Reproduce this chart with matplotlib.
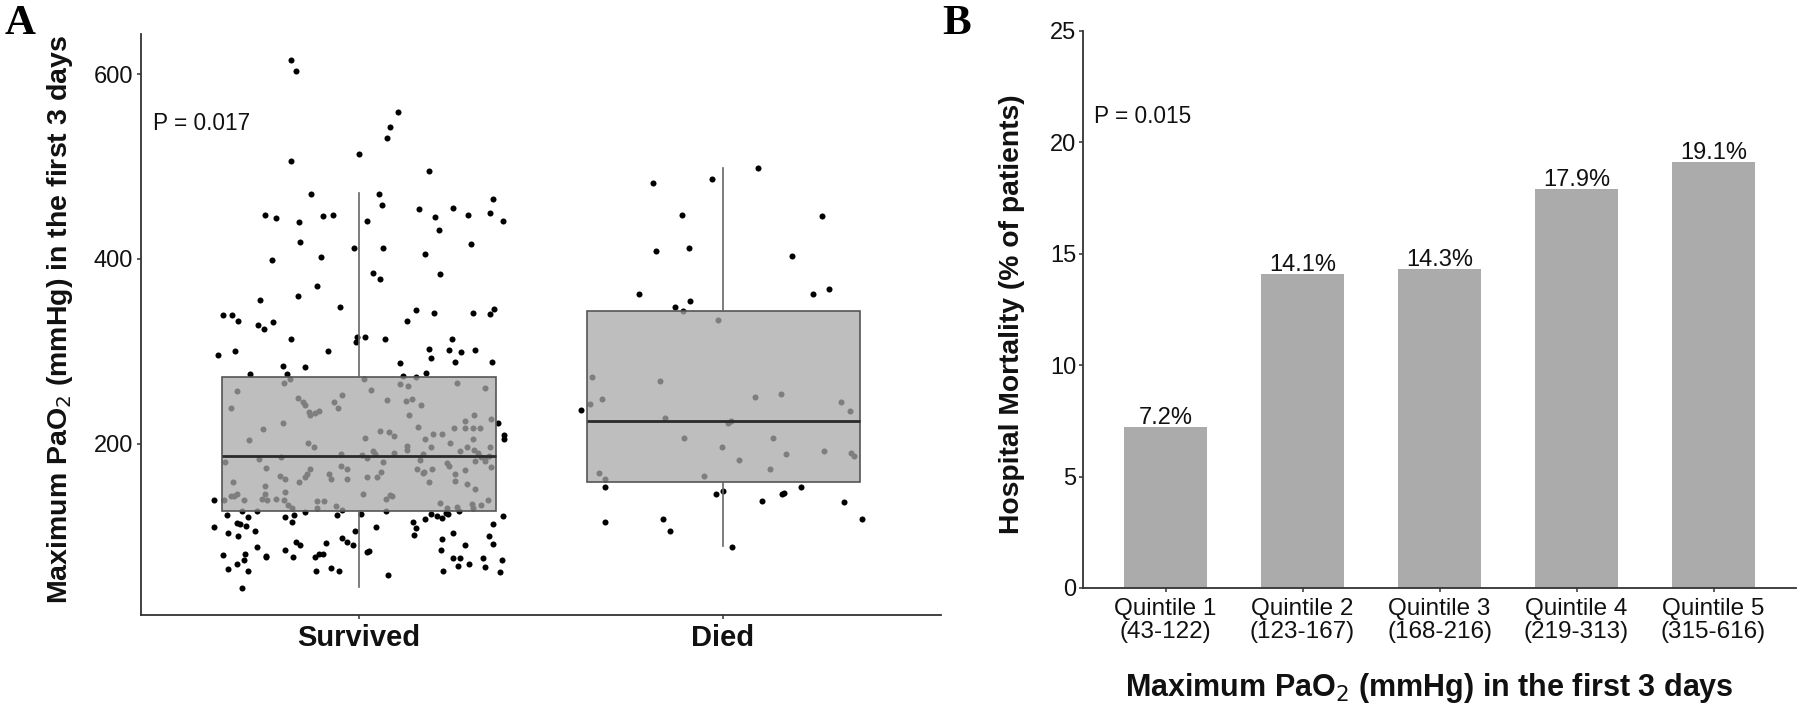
import matplotlib
matplotlib.use("Agg")
import matplotlib.pyplot as plt

plt.rcParams["font.family"] = ["Liberation Sans", "DejaVu Sans"]

# ---- panel A data ----
groups = ["Survived", "Died"]
box_q1 = [127, 159]
box_median = [187, 225]
box_q3 = [272, 344]
box_whislo = [45, 89]
box_whishi = [471, 498]

survived_pao2 = [
    615, 603, 559, 543, 531, 513, 506, 495, 470, 470,
    458, 465, 448, 444, 440, 446, 448, 441, 454, 445,
    455, 447, 450, 441, 431, 418, 412, 412, 416, 399,
    402, 405, 385, 378, 384, 371, 360, 355, 348, 345,
    339, 339, 333, 328, 332, 333, 342, 342, 340, 346,
    324,
    313, 315, 315, 310, 313, 296, 300, 300, 302, 313,
    301, 299, 301, 293, 288, 289, 284, 283, 287, 276,
    276, 273, 277,
    266, 270, 257, 239, 249, 245, 242, 234, 231, 233,
    235, 245, 239, 253, 270, 258, 247, 265, 263, 272,
    246, 248, 242, 231, 218, 266, 260, 227, 231, 225,
    217, 217, 217, 217, 216, 222, 204, 201, 196, 206,
    214, 213, 208, 205, 211, 211, 197, 198, 193, 201,
    192, 196, 205, 193, 197, 185, 190, 186, 187, 192,
    189, 188, 185, 189, 190, 189, 180, 184, 186, 174,
    173, 176, 173, 180, 182, 173, 173, 179, 176, 181,
    181, 175, 172, 167, 168, 170, 170, 164, 164, 167,
    164, 159, 162, 165, 167, 162, 162, 159, 154, 146,
    148, 143, 144, 146, 139, 139, 140, 139, 140, 139,
    134, 131, 138, 138, 130, 133, 128, 146, 140, 145,
    144, 159, 160, 157, 151, 136, 130, 132, 135, 134,
    139, 130,
    139, 123, 127, 127, 121, 110, 114, 113, 111, 104,
    100, 106, 121, 123, 115, 126, 123, 124, 127, 110,
    106, 115, 109, 101, 119, 124, 122, 120, 125, 124,
    127, 104, 97, 113, 122, 100, 92, 223, 210, 205,
    88, 80, 81, 74, 79, 77, 65, 70, 62, 44,
    85, 78, 94, 90, 78, 81, 81, 93, 98, 94,
    90, 62, 66, 62, 83, 84, 58, 85, 76, 76,
    68, 91, 70, 62, 76, 67, 74, 61,
]
survived_jitter = [
    -0.188, -0.174, 0.106, 0.086, 0.077, -0.001, -0.188, 0.193, -0.131, 0.054,
    0.063, 0.369, -0.257, -0.229, -0.165, -0.099, -0.072, 0.022, 0.164, 0.210,
    0.259, 0.300, 0.360, 0.395, 0.219, -0.162, -0.015, 0.066, 0.308, -0.240,
    -0.104, 0.181, 0.038, 0.057, 0.222, -0.115, -0.168, -0.271, -0.052, 0.156,
    -0.373, -0.350, -0.332, -0.278, -0.237, 0.132, 0.207, 0.314, 0.360, 0.372,
    -0.261,
    -0.188, -0.005, 0.017, -0.007, 0.071, -0.387, -0.341, -0.084, 0.193, 0.256,
    0.248, 0.279, 0.320, 0.199, 0.265, 0.366, -0.208, -0.148, 0.112, -0.199,
    -0.300, 0.122, 0.184,
    -0.205, -0.190, -0.335, -0.353, -0.168, -0.154, -0.147, -0.138, -0.135, -0.122,
    -0.110, -0.070, -0.058, -0.047, 0.015, 0.034, 0.077, 0.114, 0.135, 0.156,
    0.130, 0.145, 0.170, 0.138, 0.161, 0.268, 0.346, 0.363, 0.317, 0.292,
    0.262, 0.291, 0.314, 0.332, -0.264, -0.208, -0.303, -0.139, -0.125, 0.016,
    0.057, 0.083, 0.096, 0.181, 0.202, 0.228, 0.199, 0.133, 0.131, 0.251,
    0.278, 0.296, 0.312, 0.317, 0.360, 0.346, 0.326, 0.334, 0.358, 0.039,
    0.045, 0.008, 0.023, -0.049, 0.096, 0.175, -0.368, -0.274, -0.215, -0.256,
    -0.135, -0.049, -0.032, 0.066, 0.168, 0.158, 0.201, 0.241, 0.246, 0.320,
    0.346, 0.363, 0.291, 0.263, 0.175, 0.179, 0.060, 0.049, 0.023, -0.144,
    -0.147, -0.165, -0.202, -0.217, -0.083, -0.078, -0.032, -0.346, -0.257, -0.257,
    -0.202, -0.353, -0.343, -0.336, -0.371, -0.315, -0.266, -0.254, -0.229, -0.205,
    -0.195, -0.185, -0.115, -0.096, -0.115, -0.062, -0.047, 0.012, 0.074, 0.084,
    0.090, 0.193, 0.265, 0.298, 0.318, 0.222, 0.242, 0.268, 0.310, 0.334,
    0.355, 0.314,
    -0.398, -0.364, -0.321, -0.279, -0.304, -0.398, -0.334, -0.327, -0.310, -0.359,
    -0.333, -0.287, -0.202, -0.178, -0.185, -0.147, -0.061, 0.006, 0.074, 0.046,
    -0.012, 0.147, 0.156, 0.150, 0.181, 0.199, 0.215, 0.227, 0.239, 0.245,
    0.274, 0.259, 0.228, 0.369, 0.395, 0.358, 0.369, 0.383, 0.397, 0.397,
    -0.279, -0.373, -0.313, -0.315, -0.255, -0.255, -0.359, -0.334, -0.304, -0.321,
    -0.202, -0.182, -0.174, -0.162, -0.121, -0.110, -0.099, -0.092, -0.047, -0.034,
    -0.016, -0.118, -0.078, -0.056, 0.023, 0.027, 0.080, 0.225, 0.259, 0.277,
    0.271, 0.291, 0.303, 0.232, 0.340, 0.346, 0.393, 0.386,
]

died_pao2 = [
    482, 486, 498, 447, 446, 409, 412, 403, 362, 354,
    348, 362, 367, 344, 334,
    272, 268, 248, 243, 228, 223, 225, 251, 254, 245,
    235, 206, 196, 206, 189, 182, 173, 192, 190, 187,
    168, 162, 165,
    236, 153, 146, 149, 138, 146, 147, 153, 137, 115,
    119, 106, 119, 88,
]
died_jitter = [
    -0.192, -0.030, 0.097, -0.114, 0.273, -0.183, -0.093, 0.190, -0.232, -0.091,
    -0.131, 0.246, 0.290, -0.111, -0.013,
    -0.359, -0.174, -0.333, -0.365, -0.158, 0.013, 0.021, 0.088, 0.160, 0.324,
    0.348, -0.108, -0.004, 0.137, 0.174, 0.045, 0.129, 0.278, 0.352, 0.360,
    -0.340, -0.324, -0.053,
    -0.391, -0.324, -0.019, -0.001, 0.108, 0.163, 0.168, 0.215, 0.333, -0.324,
    -0.164, -0.146, 0.382, 0.025,
]

# ---- panel B data ----
quintiles = [
    "Quintile 1\n(43-122)",
    "Quintile 2\n(123-167)",
    "Quintile 3\n(168-216)",
    "Quintile 4\n(219-313)",
    "Quintile 5\n(315-616)",
]
mortality = [7.2, 14.1, 14.3, 17.9, 19.1]
p_text = ["P = 0.017", "P = 0.015"]

AXIS_TITLE = "Maximum PaO$_2$ (mmHg) in the first 3 days"
SPINE = "#333333"
TEXT = "#111111"


def style_axes(ax):
    for side in ("top", "right"):
        ax.spines[side].set_visible(False)
    for side in ("left", "bottom"):
        ax.spines[side].set_color(SPINE)
        ax.spines[side].set_linewidth(1.3)
    ax.tick_params(colors=SPINE, labelcolor=TEXT, length=3.0, width=1.1, labelsize=17)


fig = plt.figure(figsize=(18, 7.16), dpi=100)
W, H = 1800, 716

# ---- panel A ----
axA = fig.add_axes([140.6 / W, (H - 614.8) / H, 800.8 / W, (614.8 - 33.7) / H])
style_axes(axA)

for pos, vals, jit in ((1, survived_pao2, survived_jitter), (2, died_pao2, died_jitter)):
    axA.scatter([pos + j for j in jit], vals, s=19, color="black", linewidths=0, zorder=1)

stats = []
for i, name in enumerate(groups):
    stats.append(dict(label=name, q1=box_q1[i], med=box_median[i], q3=box_q3[i],
                      whislo=box_whislo[i], whishi=box_whishi[i], fliers=[]))
axA.bxp(stats, positions=[1, 2], widths=0.75, patch_artist=True, showcaps=False,
        showfliers=False, zorder=2,
        boxprops=dict(facecolor=(0.663, 0.663, 0.663, 0.75), edgecolor="#555555", linewidth=1.2),
        medianprops=dict(color="#2a2a2a", linewidth=2.0),
        whiskerprops=dict(color="#666666", linewidth=1.2))

axA.set_xlim(0.4, 2.6)
axA.set_ylim(15, 643.6)
axA.set_yticks([200, 400, 600])
axA.set_xticks([1, 2])
axA.set_xticklabels(groups, fontsize=21, fontweight="bold")
axA.tick_params(axis="x", pad=3.5)
axA.tick_params(axis="y", pad=2.5)
axA.text(0.435, 547, p_text[0], ha="left", va="center", fontsize=16.3, color=TEXT)

fig.text(60 / W, 1 - 320 / H, AXIS_TITLE, rotation=90, ha="center", va="center",
         fontsize=20.5, fontweight="bold", color=TEXT)

# ---- panel B ----
axB = fig.add_axes([1083.3 / W, (H - 588) / H, 712.4 / W, (588 - 30.7) / H])
style_axes(axB)
xpos = list(range(1, len(quintiles) + 1))
axB.bar(xpos, mortality, width=0.6, color="#ababab", zorder=2)
for x, v in zip(xpos, mortality):
    axB.text(x, v + 0.14, f"{v:.1f}%", ha="center", va="baseline", fontsize=17, color=TEXT)
axB.set_xlim(0.4, 5.6)
axB.set_ylim(0, 25)
axB.set_yticks([0, 5, 10, 15, 20, 25])
axB.set_xticks(xpos)
axB.set_xticklabels(quintiles, fontsize=17.5, linespacing=1.1)
axB.tick_params(axis="x", pad=4)
axB.tick_params(axis="y", pad=2)
axB.text(0.48, 21.15, p_text[1], ha="left", va="center", fontsize=16.3, color=TEXT)

fig.text(1012 / W, 1 - 314 / H, "Hospital Mortality (% of patients)", rotation=90,
         ha="center", va="center", fontsize=20.3, fontweight="bold", color=TEXT)
fig.text(1429 / W, 1 - 688 / H, AXIS_TITLE, ha="center", va="center",
         fontsize=22, fontweight="bold", color=TEXT)

# panel letters
fig.text(5 / W, 1 - 5 / H, "A", ha="left", va="top", fontsize=31, fontweight="bold",
         family="Liberation Serif", color="black")
fig.text(942 / W, 1 - 5 / H, "B", ha="left", va="top", fontsize=31, fontweight="bold",
         family="Liberation Serif", color="black")

fig.savefig("out.png", dpi=100)
